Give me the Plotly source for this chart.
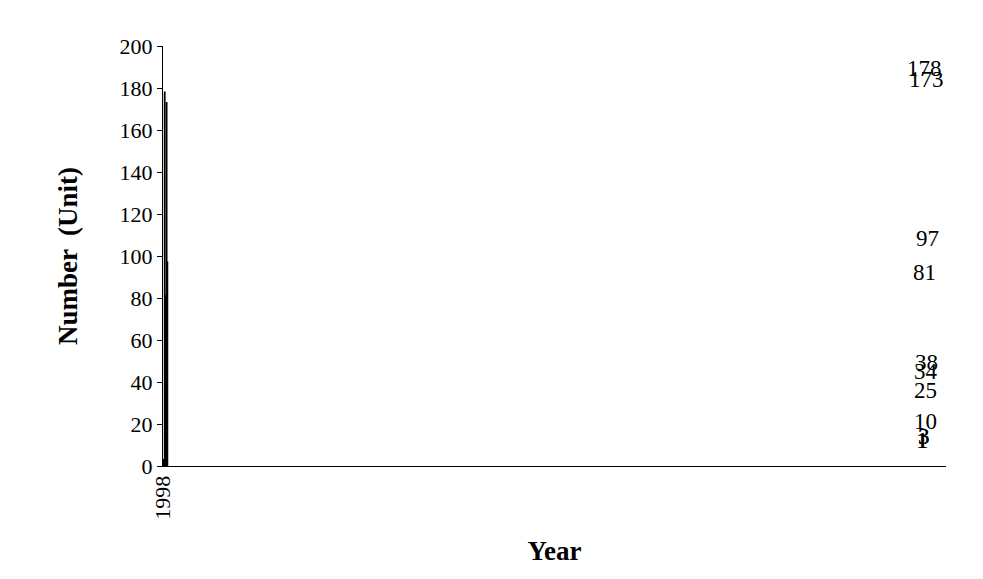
import plotly.graph_objects as go

years = ["1998","2000","2002","2003","2004","2005","2006","2007","2008","2009","2010","2011"]
values = [1,1,3,3,178,81,25,10,34,173,38,97]

fig = go.Figure(go.Bar(
    x=years, y=values,
    marker=dict(color="#4F81BD", line=dict(color="black", width=1.5)),
))
for yr, v in zip(years, values):
    fig.add_annotation(x=yr, y=v, text=str(v), showarrow=False, yanchor="bottom", yshift=9,
                       font=dict(family="Liberation Serif", size=23, color="black"))
fig.update_layout(
    width=983, height=579, plot_bgcolor="white", paper_bgcolor="white",
    margin=dict(l=155, r=45, t=38, b=121), bargap=0.27, showlegend=False,
    font=dict(family="Liberation Serif", size=22, color="black"),
)
fig.update_xaxes(type="category", tickangle=-90, showline=True, linecolor="black", linewidth=1,
                 ticks="", title=dict(text="<b>Year</b>", font=dict(size=27), standoff=22),
                 tickfont=dict(size=22))
fig.update_yaxes(range=[0,200], dtick=20, showline=True, linecolor="black", linewidth=1,
                 ticks="outside", ticklen=5, tickcolor="black", showgrid=False, zeroline=False,
                 title=dict(text="<b>Number  (Unit)</b>", font=dict(size=27), standoff=34),
                 tickfont=dict(size=22))
fig.write_html("out.html")
